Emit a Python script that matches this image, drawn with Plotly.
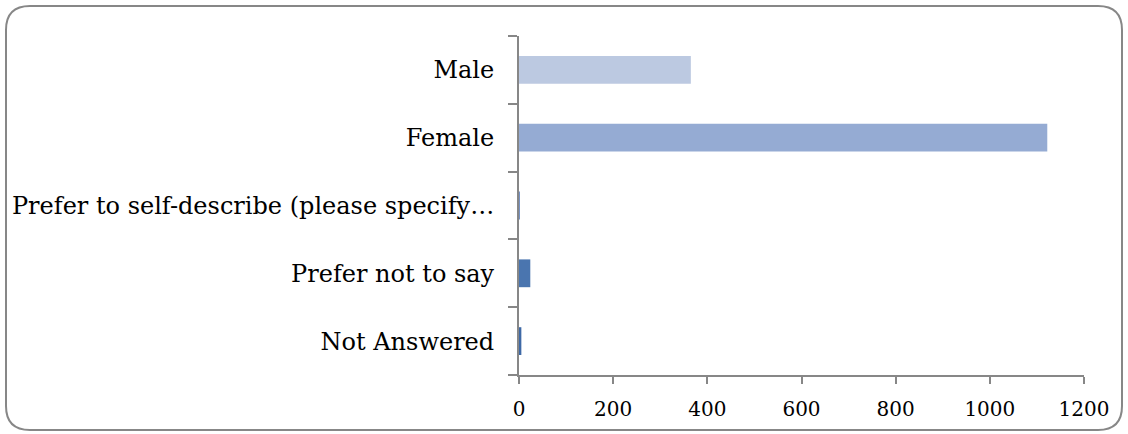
import plotly.graph_objects as go

categories = [
    "Male",
    "Female",
    "Prefer to self-describe (please specify…",
    "Prefer not to say",
    "Not Answered",
]
counts = [365, 1122, 2, 24, 5]
bar_colors = ["#BCC9E1", "#95ABD3", "#7692C4", "#4A75AF", "#3E69A6"]
x_ticks = [0, 200, 400, 600, 800, 1000, 1200]

W, H = 1128, 434
L, R, T, B = 519, 44, 36, 59

fig = go.Figure(
    go.Bar(
        y=categories,
        x=counts,
        orientation="h",
        marker=dict(color=bar_colors, line=dict(width=0)),
    )
)

# rounded frame around the whole chart, in pixel units converted to paper units
pw, ph = W - L - R, H - T - B
def px(x):
    return (x - L) / pw
def py(y):
    return 1 - (y - T) / ph

x0, y0, x1, y1, r = 6, 6, 1122, 430, 24
path = (
    f"M {px(x0 + r)},{py(y0)} L {px(x1 - r)},{py(y0)} "
    f"Q {px(x1)},{py(y0)} {px(x1)},{py(y0 + r)} "
    f"L {px(x1)},{py(y1 - r)} Q {px(x1)},{py(y1)} {px(x1 - r)},{py(y1)} "
    f"L {px(x0 + r)},{py(y1)} Q {px(x0)},{py(y1)} {px(x0)},{py(y1 - r)} "
    f"L {px(x0)},{py(y0 + r)} Q {px(x0)},{py(y0)} {px(x0 + r)},{py(y0)} Z"
)

fig.update_layout(
    width=W,
    height=H,
    margin=dict(l=L, r=R, t=T, b=B, autoexpand=False),
    paper_bgcolor="white",
    plot_bgcolor="white",
    bargap=0.59,
    showlegend=False,
    font=dict(family="DejaVu Serif", size=24, color="#000000"),
    shapes=[
        dict(
            type="path",
            path=path,
            xref="paper",
            yref="paper",
            line=dict(color="#878787", width=2),
            layer="below",
        )
    ],
)

fig.update_xaxes(
    range=[0, 1200],
    tickvals=x_ticks,
    ticks="outside",
    ticklen=7,
    tickwidth=2,
    tickcolor="#878787",
    showline=True,
    linecolor="#878787",
    linewidth=2,
    showgrid=False,
    zeroline=False,
    tickfont=dict(size=20),
    ticklabelstandoff=8,
    automargin=False,
)

fig.update_yaxes(
    categoryorder="array",
    categoryarray=categories[::-1],
    ticks="outside",
    tickson="boundaries",
    ticklen=9,
    tickwidth=2,
    tickcolor="#878787",
    showline=True,
    linecolor="#878787",
    linewidth=2,
    showgrid=False,
    zeroline=False,
    ticklabelstandoff=18,
    automargin=False,
)

fig.write_html("out.html")
